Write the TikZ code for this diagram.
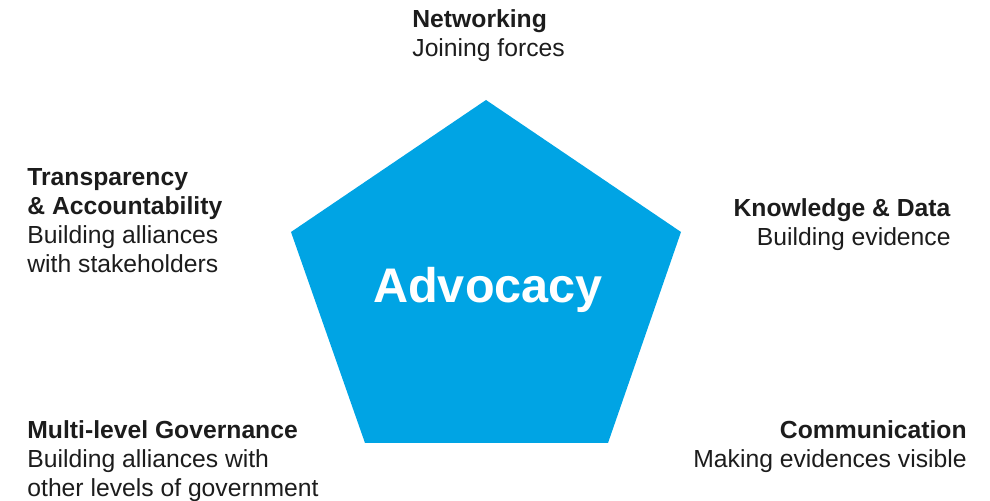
\documentclass[tikz,border=0pt]{standalone}
\usepackage{fontspec}
\setmainfont{Liberation Sans}
\usetikzlibrary{positioning}
\definecolor{advocacyblue}{RGB}{0,164,228}
\definecolor{labelgrey}{RGB}{28,28,28}

\begin{document}
\begin{tikzpicture}[x=0.5pt,y=-0.5pt,
    pillar/.style={inner sep=0pt, text=labelgrey,
      font=\fontsize{12.35}{14.6}\selectfont},
    core/.style={inner sep=0pt, text=white,
      font=\fontsize{24.3}{29}\selectfont\bfseries}]
    \useasboundingbox (0,0) rectangle (990,501);

    % Pentagon
    \fill[advocacyblue] (486,100) -- (681,232) -- (608,443) -- (365,443) -- (291,232) -- cycle;
    \node[core, anchor=base] (advocacy) at (488,303) {Advocacy};

    % Networking (anchored on last line)
    \node[pillar, align=left, anchor=base west] (networking) at (412,57)
        {\textbf{Networking}\\Joining forces};

    % Transparency & Accountability
    \node[pillar, align=left, anchor=base west] (transparency) at (27,273)
        {\textbf{Transparency}\\\textbf{\& Accountability}\\Building alliances\\with stakeholders};

    % Knowledge & Data
    \node[pillar, align=right, anchor=base east] (knowledge) at (951,246)
        {\textbf{Knowledge \& Data}\\Building evidence};

    % Multi-level Governance
    \node[pillar, align=left, anchor=base west] (governance) at (27,497)
        {\textbf{Multi-level Governance}\\Building alliances with\\other levels of government};

    % Communication
    \node[pillar, align=right, anchor=base east] (communication) at (967,468)
        {\textbf{Communication}\\Making evidences visible};
\end{tikzpicture}
\end{document}
